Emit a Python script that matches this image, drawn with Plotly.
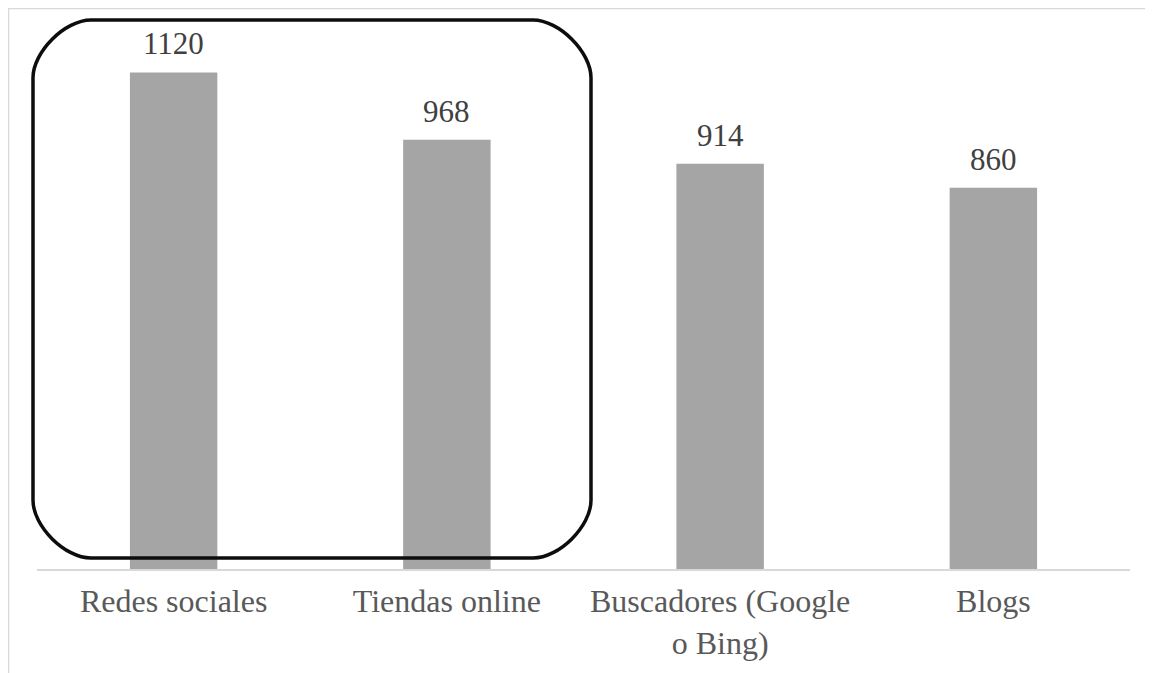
import plotly.graph_objects as go

categorias = ["Redes sociales", "Tiendas online", "Buscadores (Google<br>o Bing)", "Blogs"]
valores = [1120, 968, 914, 860]

# the page puts the figure 8px in from the window edge
W, H = 1145, 665
# plot area in figure pixels
L, R, T, B = 29, 1122, 29, 563


def px(x):
    return (x - L) / (R - L)


def py(y):
    return (B - y) / (B - T)


def rounded_rect(x0, y0, x1, y1, r):
    k = 0.45 * r
    pts = [
        ("M", [(x0 + r, y0)]),
        ("L", [(x1 - r, y0)]),
        ("C", [(x1 - r + k, y0), (x1, y0 + r - k), (x1, y0 + r)]),
        ("L", [(x1, y1 - r)]),
        ("C", [(x1, y1 - r + k), (x1 - r + k, y1), (x1 - r, y1)]),
        ("L", [(x0 + r, y1)]),
        ("C", [(x0 + r - k, y1), (x0, y1 - r + k), (x0, y1 - r)]),
        ("L", [(x0, y0 + r)]),
        ("C", [(x0, y0 + r - k), (x0 + r - k, y0), (x0 + r, y0)]),
    ]
    out = []
    for cmd, p in pts:
        out.append(cmd + " " + " ".join(f"{px(a):.5f},{py(b):.5f}" for a, b in p))
    return " ".join(out) + " Z"


fig = go.Figure(
    data=[go.Bar(x=categorias, y=valores, marker_color="#a5a5a5", marker_line_width=0)]
)

for c, v in zip(categorias, valores):
    fig.add_annotation(x=c, y=v, text=str(v), showarrow=False, yanchor="bottom",
                       yshift=9, font=dict(family="Liberation Serif", size=31, color="#404040"))

# light frame round the picture
fig.add_shape(type="line", xref="paper", yref="paper", x0=px(0), x1=px(W + 5), y0=py(0.5), y1=py(0.5),
              line=dict(color="#d9d9d9", width=1.5))
fig.add_shape(type="line", xref="paper", yref="paper", x0=px(0.5), x1=px(0.5), y0=py(0), y1=py(H + 5),
              line=dict(color="#d9d9d9", width=1.5))

# highlight box
fig.add_shape(type="path", xref="paper", yref="paper", path=rounded_rect(25, 12, 583, 552, 58),
              line=dict(color="#0d0d0d", width=3.5), layer="above")

fig.update_layout(
    width=W, height=H,
    margin=dict(l=L, r=W - R, t=T, b=H - B),
    plot_bgcolor="white", paper_bgcolor="white",
    bargap=0.68, showlegend=False,
    font=dict(family="Liberation Serif", size=32, color="#595959"),
)
fig.update_xaxes(showline=True, linecolor="#d9d9d9", linewidth=1.5, ticks="", showgrid=False,
                 tickfont=dict(size=32, color="#595959"), ticklabelstandoff=3)
fig.update_yaxes(range=[0, 1200], visible=False, showgrid=False)

fig.write_html("out.html")
